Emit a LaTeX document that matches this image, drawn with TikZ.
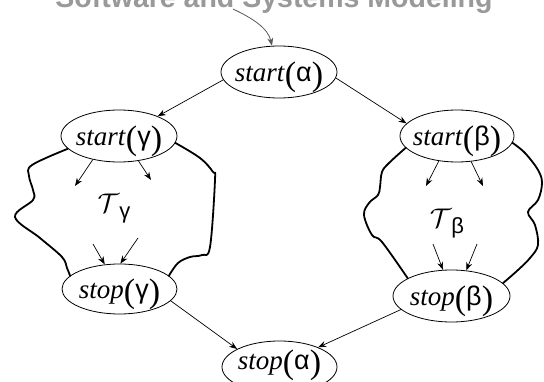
\documentclass[tikz,border=0pt]{standalone}
\usepackage{fix-cm}
\usepackage{fontspec}
\setmainfont{Liberation Serif}
\newfontfamily\grk{Liberation Sans}
\usetikzlibrary{shapes.geometric,arrows.meta}

% event label: italic name, big parens, upright greek
\newcommand{\bigpar}[1]{\raisebox{-4pt}{\fontsize{34}{34}\selectfont #1}}
\newcommand{\evt}[3][10pt]{\makebox[0pt]{\smash{\raisebox{-#1}{\textit{#2}\bigpar{(}{\grk #3}\bigpar{)}}}}}
\newcommand{\trans}[1]{{\fontsize{27}{27}\selectfont$\mathcal{T}$}\raisebox{-6pt}{\fontsize{22}{22}\selectfont\grk #1}}

\begin{document}
\begin{tikzpicture}[x=1pt, y=-1pt,
    event/.style={ellipse, draw, line width=0.8pt, inner sep=0pt,
        minimum width=116pt, minimum height=52pt, font=\fontsize{27}{30}\selectfont},
    flow/.style={-{Stealth[length=8pt,width=6pt]}, line width=0.7pt},
    blob/.style={line width=1.8pt, line join=round, line cap=round}]
    \clip (0,0) rectangle (544,382);

    % journal title (cut at the top)
    \node[font=\fontsize{28.5}{30}\selectfont\bfseries\grk, text=black!40, anchor=base] (journal) at (274,8) {Software and Systems Modeling};

    % events
    \node[event] (sa) at (279,72) {\evt{start}{α}};
    \node[event] (sg) at (119,136) {\evt{start}{γ}};
    \node[event, minimum width=114pt] (sb) at (457,136) {\evt{start}{β}};
    \node[event, minimum width=115pt, minimum height=50pt] (tg) at (119.5,289) {\evt{stop}{γ}};
    \node[event, minimum width=117pt] (tb) at (451.5,296) {\evt{stop}{β}};
    \node[event, minimum width=115pt] (ta) at (279.5,367) {\evt[2pt]{stop}{α}};

    % arrow from the title
    \coordinate (feed) at (233,9);
    \draw[black!65, line width=0.8pt, -{Stealth[length=8pt,width=6pt]}] (feed) .. controls (252,18) and (268,28) .. (sa.105);

    % fork and join
    \draw[flow] (sa.188) -- (sg.27);
    \draw[flow] (sa.354) -- (sb.166);
    \draw[flow] (tg.347) -- (ta.157);
    \draw[flow] (tb.195) -- (ta.27);

    % T_gamma: blob and inner arrows
    \draw[blob] plot[smooth, tension=0.6] coordinates {(sg.194) (32,165) (29,176) (33,190) (33,200) (15,217) (40,238) (62,257) (67,268) (tg.165)};
    \draw[blob] plot[smooth, tension=0.6] coordinates {(sg.353) (200,158) (213,172) (215,180) (210,247) (202,255) (190,257) (178,263) (tg.15)};
    \coordinate (g1) at (75,186);
    \coordinate (g2) at (151,180);
    \coordinate (g3) at (93,244);
    \coordinate (g4) at (138,238);
    \draw[flow] (sg.222) -- (g1);
    \draw[flow] (sg.308) -- (g2);
    \draw[flow] (g3) -- (tg.121);
    \draw[flow] (g4) -- (tg.88);
    \node (tgam) at (114,209) {\trans{γ}};

    % T_beta: blob and inner arrows
    \draw[blob] plot[smooth, tension=0.6] coordinates {(sb.193) (389,163) (382,172) (380,187) (378,195) (369,203) (364,215) (372,235) (382,242) (tb.158)};
    \draw[blob] plot[smooth, tension=0.6] coordinates {(sb.353) (525,153) (538,170) (542,183) (538,200) (528,212) (535,225) (538,245) (530,258) (518,270) (tb.14)};
    \coordinate (b1) at (426,186);
    \coordinate (b2) at (483,186);
    \coordinate (b3) at (433,244);
    \coordinate (b4) at (477,244);
    \draw[flow] (sb.234) -- (b1);
    \draw[flow] (sb.299) -- (b2);
    \draw[flow] (b3) -- (tb.108);
    \draw[flow] (b4) -- (tb.60);
    \node (tbet) at (447,224) {\trans{β}};
\end{tikzpicture}
\end{document}
